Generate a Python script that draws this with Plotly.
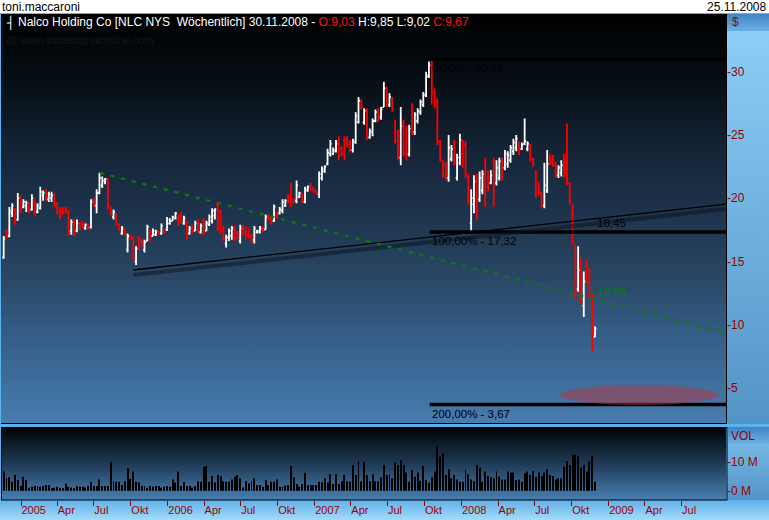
import base64
import pandas as pd
import plotly.graph_objects as go

# ---------------- data (weekly bars, Nalco Holding Co, NLC NYS) ----------------
opens = [15.3,17.4,17.0,18.8,19.1,18.3,20.1,19.3,19.4,19.6,19.1,19.8,18.9,19.2,20.2,20.6,19.9,20.0,20.3,19.6,
         19.1,19.0,19.1,18.9,17.4,18.2,17.4,18.0,17.9,17.6,17.9,17.7,19.9,19.4,20.4,21.0,21.3,21.4,19.3,18.5,
         18.7,17.9,17.2,17.5,15.9,17.0,16.9,15.0,16.9,16.6,15.9,16.6,17.4,17.0,17.1,17.4,17.2,17.5,17.5,18.0,
         18.2,18.4,18.6,18.7,18.0,18.1,17.2,17.8,17.4,18.1,17.3,18.2,17.4,17.9,18.2,18.6,19.5,18.9,17.6,16.4,
         16.9,17.0,17.6,17.2,16.6,17.8,17.6,17.3,17.0,16.7,17.3,17.3,17.7,17.5,18.6,18.4,18.2,18.8,18.8,19.0,
         19.4,20.2,20.0,19.9,19.8,20.1,20.3,19.7,20.6,21.1,20.8,20.6,20.3,21.6,22.1,22.7,23.5,23.5,23.7,24.5,
         23.9,24.6,24.7,24.4,23.8,24.4,26.0,27.7,26.0,26.8,24.8,25.2,26.1,27.0,26.4,27.2,28.6,27.4,27.9,26.0,
         25.2,23.2,26.0,25.5,23.5,27.2,25.2,26.1,26.8,27.4,28.1,29.6,30.6,28.5,27.6,24.4,22.9,22.6,21.6,23.1,
         24.4,21.6,22.8,23.5,24.2,21.7,18.0,19.5,21.5,19.9,20.6,22.8,21.6,21.2,22.9,21.2,21.6,23.0,22.4,22.7,
         23.0,23.7,24.0,24.4,23.9,24.3,23.9,24.2,23.1,22.1,21.2,20.4,19.4,20.6,23.2,23.2,22.7,21.8,22.0,23.1,
         22.6,21.2,18.7,16.2,12.8,14.8,11.5,14.6,14.2,12.3,9.03]
highs = [17.0,17.5,19.3,19.6,19.2,20.4,20.2,19.9,19.8,19.7,20.3,19.9,19.6,20.9,20.6,20.7,20.5,20.5,20.4,19.7,
         19.3,19.3,19.3,19.1,18.3,18.3,18.3,18.1,18.2,18.0,18.0,19.9,20.0,20.7,22.0,21.7,21.6,21.6,19.3,19.1,
         18.8,18.0,17.8,17.6,17.2,17.1,17.0,16.2,17.0,16.8,16.7,17.9,17.5,17.6,17.5,17.4,18.0,17.5,18.5,18.4,
         18.6,18.9,18.7,18.9,18.6,18.2,17.8,17.9,18.2,18.3,18.0,18.4,18.2,18.7,19.2,19.2,19.7,19.1,17.8,17.1,
         17.6,17.8,17.8,17.4,17.9,17.9,17.8,17.6,17.2,17.8,17.5,17.8,17.8,18.7,18.7,18.5,19.5,18.9,19.3,19.9,
         19.9,20.3,21.2,20.0,21.4,20.5,20.4,20.9,21.0,21.2,20.8,20.6,22.1,22.5,22.6,23.9,24.6,24.0,24.6,24.9,
         24.1,24.9,24.9,24.6,24.7,26.8,28.0,27.8,27.1,27.1,25.5,26.3,27.0,27.1,27.2,29.2,28.8,28.3,28.0,26.2,
         25.4,27.2,26.2,25.7,25.8,27.5,26.8,27.1,27.8,28.4,30.0,30.8,30.98,28.7,27.9,24.6,23.0,22.9,25.0,24.2,
         24.6,23.5,25.1,24.6,24.5,21.9,20.7,21.8,21.9,22.1,22.2,23.2,22.2,22.2,23.2,23.0,23.2,23.2,23.8,23.7,
         24.2,24.7,25.0,24.5,24.4,26.3,24.5,24.3,23.2,22.2,21.3,20.5,22.8,23.8,23.5,23.4,22.9,22.6,23.0,23.5,
         25.9,21.3,19.5,16.3,16.2,15.3,14.2,15.1,14.5,12.5,9.85]
lows = [15.2,16.8,16.9,18.5,17.9,18.2,18.8,19.2,18.9,18.8,19.0,18.6,18.8,19.1,19.8,19.8,19.7,19.7,19.3,18.7,
        18.3,18.7,18.8,17.0,17.1,17.0,17.3,17.5,17.6,17.5,17.5,17.6,19.3,18.8,20.3,20.8,21.1,19.1,18.6,18.3,
        17.8,17.4,17.1,17.0,15.7,16.7,15.1,14.7,15.9,16.2,15.7,16.6,16.6,17.0,17.0,17.1,17.1,17.2,17.4,17.9,
        18.2,18.3,17.8,18.0,17.9,16.7,17.1,17.2,17.4,17.2,17.2,17.1,17.4,17.8,18.0,18.3,17.4,17.2,16.6,16.1,
        16.6,16.7,16.6,16.7,16.4,17.1,16.7,16.8,16.4,16.4,17.2,17.2,17.3,17.5,18.2,17.9,18.1,18.3,18.7,18.8,
        19.3,19.6,19.3,19.6,19.6,20.0,19.6,19.6,20.5,20.6,20.4,20.3,20.0,21.4,22.0,22.6,23.3,23.4,23.6,23.0,
        23.3,23.0,24.0,23.6,23.6,24.3,25.9,27.0,25.8,24.6,24.7,24.9,26.0,26.0,26.2,27.2,27.2,27.2,26.8,24.3,
        23.0,22.6,23.3,23.0,23.3,25.0,25.0,25.9,26.6,27.2,28.0,29.5,27.4,27.1,24.2,22.9,21.6,21.4,21.3,22.9,
        22.6,21.4,22.6,22.4,21.6,19.5,17.4,18.8,18.3,19.7,20.3,19.3,20.5,21.1,19.3,21.0,21.4,21.4,22.2,22.4,
        22.8,23.4,23.7,23.4,23.8,24.2,23.7,22.9,22.5,20.0,20.2,19.2,19.2,20.4,22.6,22.5,21.6,21.6,21.7,21.6,
        21.0,19.5,16.3,12.0,12.6,11.6,10.6,13.2,12.0,7.9,9.02]
closes = [16.8,17.0,19.0,19.4,18.2,20.0,19.1,19.7,19.6,19.0,20.0,18.9,19.4,20.5,20.4,20.0,20.3,20.2,19.4,18.9,
          18.5,18.8,18.9,17.3,18.1,17.2,18.0,17.6,17.7,17.9,17.6,19.7,19.4,20.4,21.6,21.4,21.5,19.5,18.8,18.9,
          17.9,17.5,17.6,17.1,17.0,16.8,15.3,16.0,16.1,16.3,16.5,17.7,16.8,17.4,17.3,17.2,17.8,17.3,18.3,18.2,
          18.5,18.8,17.9,18.2,18.4,16.9,17.6,17.3,18.0,17.4,17.8,17.3,18.0,18.5,19.0,19.1,17.6,17.4,16.8,16.9,
          17.4,17.6,16.8,16.9,17.6,17.3,17.0,16.9,16.6,17.6,17.4,17.6,17.4,18.5,18.3,18.0,19.3,18.5,19.1,19.7,
          19.8,19.7,19.5,19.7,21.0,20.4,19.8,20.7,20.9,20.7,20.5,20.4,21.9,22.3,22.5,23.6,24.3,23.8,24.3,23.4,
          23.5,23.3,24.2,23.8,24.5,26.5,27.7,27.2,26.9,24.9,25.3,26.1,26.8,26.3,27.0,28.7,27.5,28.0,27.0,24.5,
          23.3,25.7,23.6,23.4,25.5,25.3,26.6,26.9,27.6,28.2,29.7,30.5,28.3,27.4,24.5,23.2,22.0,21.8,24.0,23.9,
          22.8,23.2,24.6,22.8,21.9,19.8,20.0,21.3,19.0,21.6,21.9,20.9,20.8,21.8,20.6,22.4,22.9,21.8,23.5,23.4,
          24.0,24.4,24.7,23.6,24.2,24.5,24.3,23.1,22.7,20.5,20.6,19.5,21.0,22.7,22.8,22.6,21.8,22.4,22.6,22.3,
          21.5,19.8,16.6,12.5,14.3,12.0,13.4,13.3,12.1,8.3,9.67]
volumes_m = [6.6,4.3,4.6,3.1,5.4,3.7,1.7,4.8,3.7,1.0,1.4,1.6,1.6,1.4,1.6,2.0,2.0,0.8,1.0,1.4,
             1.0,0.8,2.5,1.4,1.1,0.8,1.6,1.4,1.4,1.1,1.6,3.1,1.6,1.6,3.9,1.6,1.6,1.6,10.0,3.3,
             3.1,3.1,2.0,3.3,7.7,4.0,6.6,3.1,2.8,1.7,1.6,1.0,1.6,1.4,1.6,1.6,1.0,1.4,1.6,1.4,
             3.9,2.8,6.6,1.6,3.0,1.6,1.6,1.1,1.6,3.3,3.1,8.3,8.5,3.1,5.1,2.8,5.4,5.1,3.3,3.1,
             3.1,3.9,4.8,5.4,4.3,1.1,3.3,2.5,3.3,4.3,2.0,2.0,1.4,3.7,2.0,3.1,3.1,3.9,1.4,1.4,
             1.8,2.0,8.5,4.6,2.3,1.4,2.3,6.2,2.0,2.0,2.0,2.0,3.1,2.9,4.3,2.8,5.7,2.3,5.7,2.3,
             3.3,5.4,3.3,3.1,8.9,5.4,10.2,3.3,10.0,5.4,3.3,5.7,3.3,3.3,4.6,
             8.9,5.4,5.7,4.3,9.7,8.9,10.6,8.9,6.3,3.1,7.1,4.8,6.3,3.4,8.5,3.7,2.8,4.6,6.6,15.2,
             11.7,12.9,5.4,7.4,4.3,5.4,3.9,3.1,3.1,7.1,5.7,3.9,3.3,8.9,8.0,3.1,6.6,5.1,4.6,4.3,
             6.6,4.8,3.9,3.9,6.6,6.3,6.3,3.7,3.9,3.1,6.0,6.6,5.4,6.8,4.8,6.3,5.1,6.3,7.4,5.4,
             5.1,3.9,4.3,4.3,8.3,10.2,8.9,12.3,12.5,11.9,8.0,8.9,6.6,10.1,12.0,3.1]
last_week = "2008-11-28"

price_ticks = [5, 10, 15, 20, 25, 30]
vol_ticks = [0, 10]
x_tick_dates = ["2005-01-01", "2005-04-01", "2005-07-01", "2005-10-01", "2006-01-01", "2006-04-01",
                "2006-07-01", "2006-10-01", "2007-01-01", "2007-04-01", "2007-07-01", "2007-10-01",
                "2008-01-01", "2008-04-01", "2008-07-01", "2008-10-01", "2009-01-01", "2009-04-01",
                "2009-07-01"]
x_tick_text = ["2005", "Apr", "Jul", "Okt", "2006", "Apr", "Jul", "Okt", "2007", "Apr", "Jul", "Okt",
               "2008", "Apr", "Jul", "Okt", "2009", "Apr", "Jul"]

# drawing tools (anchor points)
fib_start = "2007-10-14"
fib_levels = [30.98, 17.32, 3.67]
fib_labels = ["0,00% - 30,98", "100,00% - 17,32", "200,00% - 3,67"]
trend_dates = ["2005-10-07", "2009-10-19"]
trend_vals = [14.31, 19.53]
trend_label = "18,45"
green_dates = ["2005-07-16", "2009-10-19"]
green_vals = [22.0, 9.34]
green_label = "12,05"
ellipse_dates = ["2008-09-01", "2009-10-02"]
ellipse_vals = [3.63, 5.21]

x_range = ["2004-11-12 07:00", "2009-10-19 12:00"]
dates = pd.date_range(end=last_week, periods=len(closes), freq="7D")

W, H = 769, 520
DARKRED = "#9a0000"
FONT = "Liberation Sans, Arial, sans-serif"

# ---------------- background (panels with gradients) ----------------
svg = f"""<svg xmlns='http://www.w3.org/2000/svg' width='{W}' height='{H}' viewBox='0 0 {W} {H}' preserveAspectRatio='none'>
<defs>
<linearGradient id='gm' x1='0' y1='0' x2='0' y2='1'>
<stop offset='0' stop-color='#000000'/><stop offset='0.08' stop-color='#03060a'/>
<stop offset='0.2' stop-color='#09121b'/><stop offset='0.35' stop-color='#16263a'/>
<stop offset='0.5' stop-color='#1e354e'/><stop offset='0.65' stop-color='#2a4866'/>
<stop offset='0.8' stop-color='#36608a'/><stop offset='1' stop-color='#477cae'/>
</linearGradient>
<linearGradient id='gv' x1='0' y1='0' x2='0' y2='1'>
<stop offset='0' stop-color='#000204'/><stop offset='0.5' stop-color='#1f3a56'/><stop offset='1' stop-color='#4a80b2'/>
</linearGradient>
<linearGradient id='gr' x1='0' y1='0' x2='0' y2='1'>
<stop offset='0' stop-color='#8dd0f8'/><stop offset='1' stop-color='#5394c6'/>
</linearGradient>
<linearGradient id='gr2' x1='0' y1='0' x2='0' y2='1'>
<stop offset='0' stop-color='#7fc2ee'/><stop offset='1' stop-color='#5394c6'/>
</linearGradient>
<linearGradient id='gh' x1='0' y1='0' x2='0' y2='1'>
<stop offset='0' stop-color='#3f85c4'/><stop offset='1' stop-color='#6cb0e2'/>
</linearGradient>
<linearGradient id='gb' x1='0' y1='0' x2='0' y2='1'>
<stop offset='0' stop-color='#62b2ea'/><stop offset='1' stop-color='#a4dbfb'/>
</linearGradient>
</defs>
<rect x='0' y='0' width='{W}' height='{H}' fill='#5ab2ee'/>
<rect x='0' y='0' width='{W}' height='13' fill='#ffffff'/>
<rect x='1' y='14' width='725' height='409' fill='url(#gm)'/>
<rect x='727' y='14' width='42' height='410' fill='url(#gr)'/>
<rect x='727' y='14' width='42' height='17' fill='url(#gh)'/>
<rect x='1' y='427' width='725' height='73' fill='url(#gv)'/>
<rect x='728' y='427' width='41' height='73' fill='url(#gr2)'/>
<rect x='728' y='427' width='41' height='17' fill='url(#gh)'/>
<rect x='0' y='501' width='{W}' height='19' fill='url(#gb)'/>
<line x1='726.5' y1='14' x2='726.5' y2='424' stroke='#000' stroke-width='1'/>
<line x1='1' y1='423.5' x2='727' y2='423.5' stroke='#000' stroke-width='1'/>
<rect x='1.5' y='427.5' width='725.5' height='72.5' fill='none' stroke='#000' stroke-width='1'/>
</svg>"""
bg_src = "data:image/svg+xml;base64," + base64.b64encode(svg.encode()).decode()

# ---------------- figure ----------------
fig = go.Figure()
fig.add_trace(go.Ohlc(
    x=dates, open=opens, high=highs, low=lows, close=closes,
    increasing=dict(line=dict(color="#ffffff", width=1.8)),
    decreasing=dict(line=dict(color="#ff0000", width=1.8)),
    tickwidth=0.5, xaxis="x", yaxis="y", hoverinfo="skip", showlegend=False))
fig.add_trace(go.Bar(
    x=dates, y=volumes_m, width=2.4 * 86400000, marker=dict(color="#000000", line=dict(width=0)),
    xaxis="x2", yaxis="y2", hoverinfo="skip", showlegend=False))

xdom = [1 / W, 726 / W]
fig.update_layout(
    width=W, height=H, margin=dict(l=0, r=0, t=0, b=0),
    paper_bgcolor="#5ab2ee", plot_bgcolor="rgba(0,0,0,0)",
    font=dict(family=FONT, size=12, color="#000000"),
    showlegend=False,
    images=[dict(source=bg_src, xref="paper", yref="paper", x=0, y=1, sizex=1, sizey=1,
                 xanchor="left", yanchor="top", sizing="stretch", layer="below")],
    xaxis=dict(domain=xdom, type="date", range=x_range, anchor="y", showticklabels=False,
               showgrid=False, zeroline=False, showline=False, ticks="",
               rangeslider=dict(visible=False), fixedrange=True),
    xaxis2=dict(domain=xdom, type="date", range=x_range, anchor="y2", matches="x",
                showgrid=False, zeroline=False, showline=False,
                tickmode="array", tickvals=x_tick_dates, ticktext=x_tick_text,
                ticks="outside", ticklen=5, tickwidth=1, tickcolor=DARKRED,
                ticklabelposition="outside right",
                tickfont=dict(family=FONT, size=11, color=DARKRED)),
    yaxis=dict(domain=[1 - 423 / H, 1 - 14 / H], range=[2.207, 34.565], side="right", anchor="x",
               showgrid=False, zeroline=False, showline=False, ticks="",
               tickmode="array", tickvals=price_ticks, ticktext=["-" + str(v) for v in price_ticks],
               tickfont=dict(family=FONT, size=12, color=DARKRED)),
    yaxis2=dict(domain=[1 - 500 / H, 1 - 427 / H], range=[-3.21, 21.97], side="right", anchor="x2",
                showgrid=False, zeroline=False, showline=False, ticks="",
                tickmode="array", tickvals=vol_ticks, ticktext=["-" + str(v) + " M" for v in vol_ticks],
                tickfont=dict(family=FONT, size=12, color=DARKRED)),
)

shapes = []
for lv in fib_levels:
    shapes.append(dict(type="line", xref="x", yref="y", x0=fib_start, x1=x_range[1], y0=lv, y1=lv,
                       line=dict(color="#000000", width=3.5)))
# trendline with its shadow
shapes.append(dict(type="line", xref="x", yref="y", x0=trend_dates[0], x1=trend_dates[1],
                   y0=trend_vals[0] - 0.4, y1=trend_vals[1] - 0.4,
                   line=dict(color="rgba(12,18,28,0.5)", width=4)))
shapes.append(dict(type="line", xref="x", yref="y", x0=trend_dates[0], x1=trend_dates[1],
                   y0=trend_vals[0], y1=trend_vals[1], line=dict(color="#000000", width=1.3)))
shapes.append(dict(type="line", xref="x", yref="y", x0=green_dates[0], x1=green_dates[1],
                   y0=green_vals[0], y1=green_vals[1],
                   line=dict(color="#0b7d0b", width=2.2, dash="4px,7px")))
shapes.append(dict(type="circle", xref="x", yref="y", x0=ellipse_dates[0], x1=ellipse_dates[1],
                   y0=ellipse_vals[0], y1=ellipse_vals[1],
                   fillcolor="rgba(181,54,65,0.5)", line=dict(width=0)))
fig.update_layout(shapes=shapes)

ann = []
for lv, txt in zip(fib_levels, fib_labels):
    ann.append(dict(x=fib_start, y=lv, xref="x", yref="y", text=txt, showarrow=False,
                    xanchor="left", yanchor="top", yshift=-1, xshift=0,
                    font=dict(family=FONT, size=11.5, color="#000000")))
ann.append(dict(x=last_week, y=18.03, xref="x", yref="y", text=trend_label, showarrow=False,
                xanchor="left", yanchor="middle", font=dict(family=FONT, size=11.5, color="#000000")))
ann.append(dict(x=last_week, y=12.6, xref="x", yref="y", text=green_label, showarrow=False,
                xanchor="left", yanchor="middle", font=dict(family=FONT, size=11.5, color="#0b7d0b")))

def px(xp):
    return xp / W

def py(yp):
    return 1 - yp / H

ann.append(dict(x=px(0), y=py(0), xref="paper", yref="paper", text="toni.maccaroni", showarrow=False,
                xanchor="left", yanchor="top", yshift=2, font=dict(family=FONT, size=12, color="#000000")))
ann.append(dict(x=px(768), y=py(0), xref="paper", yref="paper", text="25.11.2008", showarrow=False,
                xanchor="right", yanchor="top", yshift=2, font=dict(family=FONT, size=12, color="#000000")))
title = ("Nalco Holding Co [NLC NYS&nbsp; Wöchentlich] 30.11.2008 - "
         "<span style='color:#ff1010'>O:9,03</span> H:9,85 L:9,02 "
         "<span style='color:#ff1010'>C:9,67</span>")
ann.append(dict(x=px(16), y=py(22.5), xref="paper", yref="paper", text=title, showarrow=False,
                xanchor="left", yanchor="middle", font=dict(family=FONT, size=12, color="#ffffff")))
ann.append(dict(x=px(4), y=py(22.5), xref="paper", yref="paper", text="┤", showarrow=False,
                xanchor="left", yanchor="middle", font=dict(family="DejaVu Sans", size=12, color="#ffffff")))
ann.append(dict(x=px(4), y=py(32), xref="paper", yref="paper", text="@ www.tradesignalonline.com",
                showarrow=False, xanchor="left", yanchor="top",
                font=dict(family=FONT, size=11, color="#14171b")))
ann.append(dict(x=px(730), y=py(22.5), xref="paper", yref="paper", text="$", showarrow=False,
                xanchor="left", yanchor="middle", font=dict(family=FONT, size=12, color=DARKRED)))
ann.append(dict(x=px(729), y=py(435.5), xref="paper", yref="paper", text="VOL", showarrow=False,
                xanchor="left", yanchor="middle", font=dict(family=FONT, size=12, color=DARKRED)))
fig.update_layout(annotations=ann)

fig.write_html("out.html", config={"displayModeBar": False},
               post_script="document.body.style.margin='0';document.body.style.overflow='hidden';")
